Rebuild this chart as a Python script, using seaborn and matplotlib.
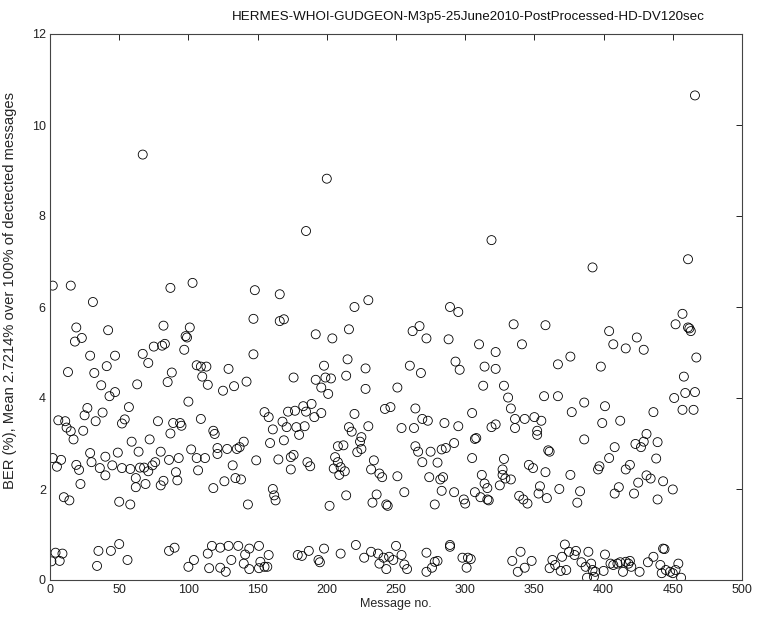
import numpy as np
import pandas as pd
import matplotlib
matplotlib.use("Agg")
import matplotlib.pyplot as plt
import seaborn as sns

# ---------------------------------------------------------
# data (message no., BER %), by block
# ---------------------------------------------------------
msg_a = [2, 15, 31, 19, 18, 23, 42, 29, 47, 41, 32, 13, 37, 47, 43, 63, 67, 71, 75, 82,
         83, 81, 85, 6, 11, 12, 15, 17, 24, 27, 25, 33, 38, 52, 54, 57, 78, 72, 59, 87,
         2, 5, 8, 19, 21, 22, 29, 30, 36, 40, 40, 45, 49, 52, 58, 64, 62, 62, 69, 65,
         68, 71, 74, 76, 80, 80, 82, 86, 10, 14, 50, 58,
         1, 4, 7, 9, 35, 34, 44, 50, 56, 86, 67]
ber_a = [6.47, 6.47, 6.11, 5.55, 5.24, 5.32, 5.49, 4.93, 4.93, 4.70, 4.55, 4.57, 4.28, 4.13, 4.04, 4.30, 4.97, 4.77, 5.13, 5.59,
         5.19, 5.15, 4.35, 3.51, 3.49, 3.35, 3.27, 3.09, 3.28, 3.78, 3.62, 3.49, 3.68, 3.44, 3.53, 3.80, 3.49, 3.09, 3.04, 3.22,
         2.68, 2.49, 2.64, 2.53, 2.42, 2.11, 2.79, 2.59, 2.46, 2.30, 2.71, 2.52, 2.80, 2.46, 2.44, 2.82, 2.24, 2.04, 2.11, 2.47,
         2.47, 2.39, 2.52, 2.59, 2.82, 2.08, 2.18, 2.64, 1.82, 1.75, 1.72, 1.66,
         0.41, 0.60, 0.42, 0.58, 0.64, 0.31, 0.64, 0.79, 0.44, 0.64, 9.35]

msg_b = [87, 103, 148, 166, 147, 166, 169, 101, 98, 99, 97, 147, 106, 109, 113, 110, 114, 129, 88, 125,
         133, 142, 176, 100, 89, 95, 94, 109, 118, 119, 155, 158, 161, 168, 172, 177, 171, 178, 93, 91,
         92, 102, 106, 112, 107, 121, 121, 128, 135, 137, 140, 132, 134, 138, 126, 118, 149, 159, 169, 165,
         174, 176, 174, 161, 162, 163, 143,
         90, 100, 104, 114, 117, 115, 123, 123, 127, 129, 136, 151, 131, 141, 144, 140, 144, 151, 152, 155,
         157, 158, 179]
ber_b = [6.42, 6.53, 6.37, 6.28, 5.74, 5.69, 5.73, 5.55, 5.36, 5.33, 5.06, 4.96, 4.72, 4.69, 4.69, 4.47, 4.29, 4.64, 4.56, 4.16,
         4.26, 4.36, 4.45, 3.92, 3.45, 3.39, 3.45, 3.54, 3.28, 3.21, 3.69, 3.58, 3.31, 3.48, 3.70, 3.72, 3.36, 3.36, 2.68, 2.37,
         2.19, 2.87, 2.68, 2.68, 2.41, 2.90, 2.77, 2.88, 2.88, 2.92, 3.04, 2.52, 2.24, 2.21, 2.17, 2.02, 2.63, 3.01, 3.07, 2.65,
         2.70, 2.75, 2.43, 2.00, 1.86, 1.75, 1.66,
         0.71, 0.29, 0.44, 0.58, 0.75, 0.26, 0.71, 0.27, 0.18, 0.75, 0.75, 0.75, 0.44, 0.56, 0.69, 0.36, 0.24, 0.26, 0.40, 0.29,
         0.29, 0.55, 0.55]

msg_c = [230, 220, 192, 204, 216, 262, 267, 272, 198, 215, 228, 260, 268, 192, 199, 203, 196, 201, 214, 228,
         251, 242, 246, 264, 269, 273, 254, 263, 183, 185, 189, 191, 196, 184, 180, 220, 216, 218, 230, 225,
         224, 225, 222, 208, 212, 206, 208, 210, 205, 209, 213, 186, 188, 234, 232, 238, 240, 251, 256, 264,
         266, 269, 274, 214, 202, 236, 233, 243, 244,
         182, 187, 194, 195, 198, 210, 221, 227, 232, 237, 238, 243, 241, 245, 248, 250, 254, 256, 258, 272,
         272, 200, 185]
ber_c = [6.15, 6.00, 5.40, 5.31, 5.51, 5.47, 5.58, 5.31, 4.71, 4.85, 4.65, 4.71, 4.55, 4.40, 4.45, 4.43, 4.23, 4.09, 4.49, 4.20,
         4.23, 3.76, 3.80, 3.77, 3.54, 3.50, 3.34, 3.34, 3.82, 3.70, 3.87, 3.58, 3.67, 3.38, 3.19, 3.65, 3.36, 3.26, 3.38, 3.14,
         3.04, 2.88, 2.81, 2.94, 2.96, 2.70, 2.59, 2.48, 2.45, 2.31, 2.39, 2.59, 2.50, 2.63, 2.43, 2.34, 2.26, 2.28, 1.93, 2.94,
         2.82, 2.59, 2.26, 1.86, 1.63, 1.88, 1.70, 1.66, 1.63,
         0.53, 0.64, 0.44, 0.39, 0.69, 0.58, 0.77, 0.49, 0.62, 0.58, 0.36, 0.24, 0.49, 0.51, 0.44, 0.75, 0.55, 0.34, 0.24, 0.60,
         0.18, 8.82, 7.67]

msg_d = [289, 295, 335, 358, 288, 310, 322, 341, 293, 296, 314, 322, 367, 313, 328, 331, 333, 357, 367, 305,
         336, 343, 350, 355, 336, 352, 352, 285, 295, 319, 322, 307, 308, 292, 275, 283, 286, 360, 361, 280,
         305, 328, 282, 284, 327, 327, 329, 333, 325, 312, 314, 316, 346, 349, 358, 354, 353, 359, 368, 283,
         292, 278, 299, 300, 307, 311, 316, 317, 339, 342, 345,
         278, 280, 276, 289, 289, 298, 302, 304, 301, 340, 334, 338, 343, 348, 363, 365, 361, 370, 372, 369,
         319]
ber_d = [6.00, 5.89, 5.62, 5.60, 5.29, 5.18, 5.01, 5.18, 4.80, 4.62, 4.69, 4.64, 4.74, 4.27, 4.27, 4.01, 3.77, 4.04, 4.04, 3.67,
         3.54, 3.54, 3.58, 3.50, 3.34, 3.28, 3.19, 3.45, 3.38, 3.36, 3.42, 3.10, 3.12, 3.01, 2.82, 2.87, 2.90, 2.85, 2.82, 2.58,
         2.68, 2.66, 2.21, 2.26, 2.43, 2.31, 2.23, 2.21, 2.08, 2.31, 2.12, 2.02, 2.53, 2.46, 2.37, 2.06, 1.90, 1.80, 2.00, 1.96,
         1.93, 1.66, 1.77, 1.68, 1.93, 1.82, 1.77, 1.75, 1.85, 1.77, 1.68,
         0.40, 0.42, 0.27, 0.77, 0.73, 0.49, 0.49, 0.46, 0.27, 0.62, 0.42, 0.18, 0.27, 0.42, 0.44, 0.33, 0.26, 0.51, 0.78, 0.20,
         7.47]

msg_e = [404, 407, 416, 424, 429, 376, 398, 458, 451, 459, 466, 457, 465, 386, 377, 401, 399, 412, 436, 431,
         429, 427, 423, 439, 438, 386, 408, 404, 397, 396, 419, 416, 376, 383, 381, 411, 408, 425, 422, 431,
         434, 443, 450, 439, 457, 452, 462, 463, 461, 467,
         375, 379, 380, 373, 389, 384, 387, 391, 392, 388, 394, 393, 400, 401, 405, 407, 410, 412, 416, 418,
         419, 414, 420, 426, 432, 436, 441, 443, 444, 442, 445, 448, 450, 452, 454, 456,
         392, 461, 466]
ber_e = [5.47, 5.18, 5.09, 5.33, 5.06, 4.91, 4.69, 4.47, 4.00, 4.11, 4.13, 3.74, 3.74, 3.90, 3.69, 3.82, 3.45, 3.50, 3.69, 3.21,
         3.04, 2.92, 2.99, 3.03, 2.67, 3.09, 2.92, 2.68, 2.50, 2.43, 2.53, 2.43, 2.31, 1.95, 1.70, 2.04, 1.90, 2.14, 1.90, 2.30,
         2.23, 2.17, 1.99, 1.77, 5.85, 5.62, 5.53, 5.47, 5.55, 4.89,
         0.62, 0.55, 0.64, 0.22, 0.62, 0.39, 0.29, 0.36, 0.22, 0.05, 0.18, 0.07, 0.20, 0.56, 0.36, 0.33, 0.36, 0.39, 0.40, 0.36,
         0.42, 0.18, 0.29, 0.18, 0.39, 0.51, 0.33, 0.69, 0.68, 0.15, 0.22, 0.18, 0.15, 0.22, 0.36, 0.05,
         6.87, 7.05, 10.65]

title = "HERMES-WHOI-GUDGEON-M3p5-25June2010-PostProcessed-HD-DV120sec"
ylabel = "BER (%), Mean 2.7214% over 100% of dectected messages"
xlabel = "Message no."

df = pd.DataFrame({
    "msg": msg_a + msg_b + msg_c + msg_d + msg_e,
    "ber": ber_a + ber_b + ber_c + ber_d + ber_e,
})

# =========================================================
# PLOT
# =========================================================
sns.set_style("white")
plt.rcParams['font.family'] = ['Liberation Sans', 'DejaVu Sans']

fig = plt.figure(figsize=(7.64, 6.28), dpi=100)
ax = fig.add_axes([50 / 764, 48 / 628, 692 / 764, 546 / 628])

sns.scatterplot(
    data=df, x="msg", y="ber", ax=ax,
    marker="o", s=42, facecolor="none", edgecolor="black", linewidth=0.6
)

ax.set_xlim(0, 500)
ax.set_ylim(0, 12)
ax.set_xticks(np.arange(0, 501, 50))
ax.set_yticks(np.arange(0, 13, 2))
ax.tick_params(direction="in", length=4, width=0.7, top=True, right=True,
               labelsize=9, colors="#222222", pad=3)
for sp in ax.spines.values():
    sp.set_color("#444444")
    sp.set_linewidth(0.8)

# title sits right of centre in the original export
ax.text(0.604, 1.031, title, transform=ax.transAxes,
        ha="center", va="center", fontsize=9.6, color="#111111")
ax.set_xlabel(xlabel, fontsize=9, labelpad=1)
ax.set_ylabel(ylabel, fontsize=10.6)
ax.yaxis.set_label_coords(-0.048, 0.53)

fig.savefig("out.png", dpi=100, facecolor="white")
